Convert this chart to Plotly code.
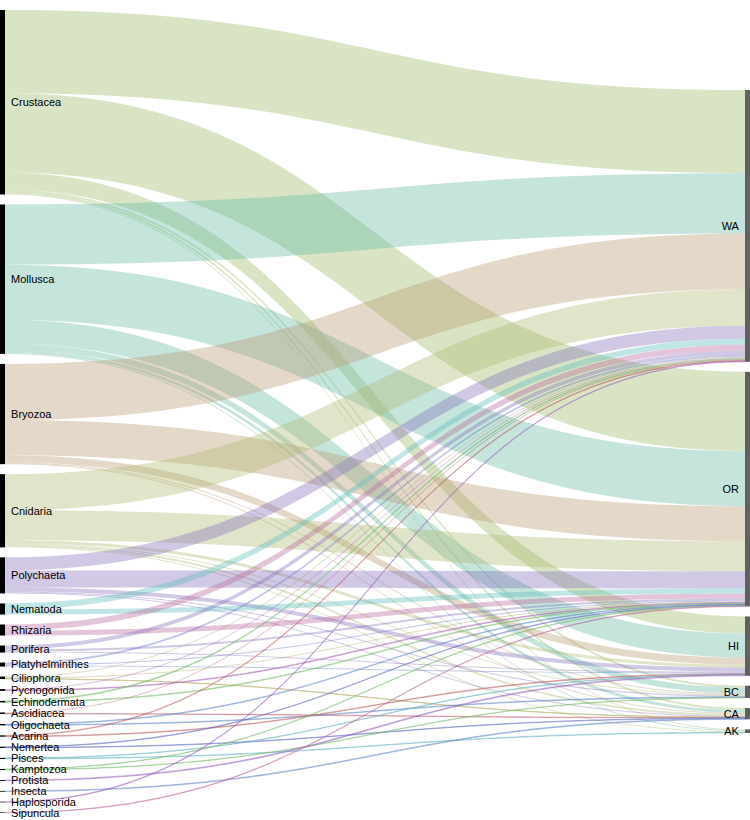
import plotly.graph_objects as go

# Nodes
sources_names = ["Crustacea", "Mollusca", "Bryozoa", "Cnidaria", "Polychaeta", "Nematoda",
                 "Rhizaria", "Porifera", "Platyhelminthes", "Ciliophora", "Pycnogonida",
                 "Echinodermata", "Ascidiacea", "Oligochaeta", "Acarina", "Nemertea", "Pisces",
                 "Kamptozoa", "Protista", "Insecta", "Haplosporida", "Sipuncula"]
target_names = ["WA", "OR", "HI", "BC", "CA", "AK"]

# Links: (source, target, value)
link_source = [
    "Crustacea", "Crustacea", "Crustacea", "Crustacea", "Crustacea", "Crustacea",
    "Mollusca", "Mollusca", "Mollusca", "Mollusca", "Mollusca", "Mollusca",
    "Bryozoa", "Bryozoa", "Bryozoa", "Bryozoa", "Bryozoa",
    "Cnidaria", "Cnidaria", "Cnidaria", "Cnidaria", "Cnidaria", "Cnidaria",
    "Polychaeta", "Polychaeta", "Polychaeta", "Polychaeta", "Polychaeta",
    "Nematoda", "Nematoda",
    "Rhizaria", "Rhizaria",
    "Porifera", "Porifera", "Porifera",
    "Platyhelminthes", "Platyhelminthes", "Platyhelminthes",
    "Ciliophora", "Ciliophora", "Ciliophora",
    "Pycnogonida", "Pycnogonida",
    "Echinodermata", "Echinodermata",
    "Ascidiacea", "Ascidiacea",
    "Oligochaeta", "Oligochaeta",
    "Acarina", "Acarina",
    "Nemertea", "Nemertea",
    "Pisces", "Pisces",
    "Kamptozoa", "Kamptozoa",
    "Protista",
    "Insecta",
    "Haplosporida",
    "Sipuncula",
]
link_target = [
    "WA", "OR", "HI", "BC", "CA", "AK",
    "WA", "OR", "HI", "BC", "CA", "AK",
    "WA", "OR", "HI", "BC", "CA",
    "WA", "OR", "HI", "BC", "CA", "AK",
    "WA", "OR", "HI", "BC", "CA",
    "WA", "OR",
    "WA", "OR",
    "WA", "OR", "HI",
    "WA", "OR", "HI",
    "WA", "OR", "CA",
    "WA", "OR",
    "WA", "OR",
    "WA", "CA",
    "OR", "BC",
    "WA", "HI",
    "OR", "CA",
    "HI", "AK",
    "OR", "BC",
    "HI",
    "CA",
    "WA",
    "OR",
]
link_value = [
    83, 79, 17, 2, 2, 1,
    60, 55, 24, 6, 3, 1,
    56, 35, 7, 1, 1,
    36, 30, 3, 1, 2, 1,
    13, 17, 4, 1, 1,
    6, 5,
    6, 5,
    4, 2, 1,
    2, 1, 1,
    1, 1, 0.5,
    1, 0.8,
    0.8, 0.8,
    1, 0.5,
    0.7, 0.7,
    0.6, 0.7,
    0.6, 0.6,
    0.5, 0.6,
    0.5, 0.5,
    0.9,
    0.8,
    0.7,
    0.6,
]

source_colors = {
    "Crustacea": "rgba(158,188,108,0.4)",
    "Mollusca": "rgba(107,187,167,0.4)",
    "Bryozoa": "rgba(187,157,117,0.4)",
    "Cnidaria": "rgba(177,187,117,0.4)",
    "Polychaeta": "rgba(137,117,187,0.4)",
    "Nematoda": "rgba(97,190,190,0.4)",
    "Rhizaria": "rgba(187,107,157,0.4)",
    "Porifera": "rgba(137,117,187,0.4)",
    "Platyhelminthes": "rgba(97,117,197,0.4)",
    "Ciliophora": "rgba(177,167,97,0.4)",
    "Pycnogonida": "rgba(167,97,177,0.4)",
    "Echinodermata": "rgba(117,187,107,0.4)",
    "Ascidiacea": "rgba(187,97,107,0.4)",
    "Oligochaeta": "rgba(97,137,197,0.4)",
    "Acarina": "rgba(187,97,97,0.4)",
    "Nemertea": "rgba(97,107,197,0.4)",
    "Pisces": "rgba(97,177,187,0.4)",
    "Kamptozoa": "rgba(117,187,107,0.4)",
    "Protista": "rgba(147,97,187,0.4)",
    "Insecta": "rgba(97,137,197,0.4)",
    "Haplosporida": "rgba(157,97,187,0.4)",
    "Sipuncula": "rgba(187,107,157,0.4)",
}

W, Hfig = 750, 820
MT, MB = 10, 7
PAD = 10
THICK = 5
H = Hfig - MT - MB

labels = sources_names + target_names
idx = {n: i for i, n in enumerate(labels)}
node_colors = ["#000000"] * len(sources_names) + ["#606060"] * len(target_names)
# a non-breaking space keeps the labels a few pixels off the node bars
display_labels = ["\u00a0" + n for n in sources_names] + [n + "\u00a0" for n in target_names]

# node totals (derived from link values)
totals = {n: 0.0 for n in labels}
for s, t, v in zip(link_source, link_target, link_value):
    totals[s] += v
    totals[t] += v

ky = (H - (len(sources_names) - 1) * PAD) / sum(totals[n] for n in sources_names)


def column_centers(names, centered):
    heights = [totals[n] * ky for n in names]
    span = sum(heights) + (len(names) - 1) * PAD
    y = (H - span) / 2 if centered else 0.0
    out = []
    for h in heights:
        out.append((y + h / 2) / H)
        y += h + PAD
    return out


node_y = column_centers(sources_names, False) + column_centers(target_names, True)
half = (THICK / 2) / W
node_x = [half] * len(sources_names) + [1 - half] * len(target_names)

fig = go.Figure(go.Sankey(
    arrangement="snap",
    node=dict(
        label=display_labels,
        color=node_colors,
        pad=PAD,
        thickness=THICK,
        line=dict(width=0),
        x=node_x,
        y=node_y,
    ),
    link=dict(
        source=[idx[s] for s in link_source],
        target=[idx[t] for t in link_target],
        value=link_value,
        color=[source_colors[s] for s in link_source],
        line=dict(width=0),
    ),
    textfont=dict(family="Liberation Sans, Arial, sans-serif", size=11, color="#000000", shadow="none"),
))

fig.update_layout(
    width=W,
    height=Hfig,
    margin=dict(l=0, r=0, t=MT, b=MB),
    paper_bgcolor="white",
    plot_bgcolor="white",
)

fig.write_html("out.html",
               config={"displayModeBar": False},
               post_script="document.body.style.margin='0px'; document.body.style.overflow='hidden';")
